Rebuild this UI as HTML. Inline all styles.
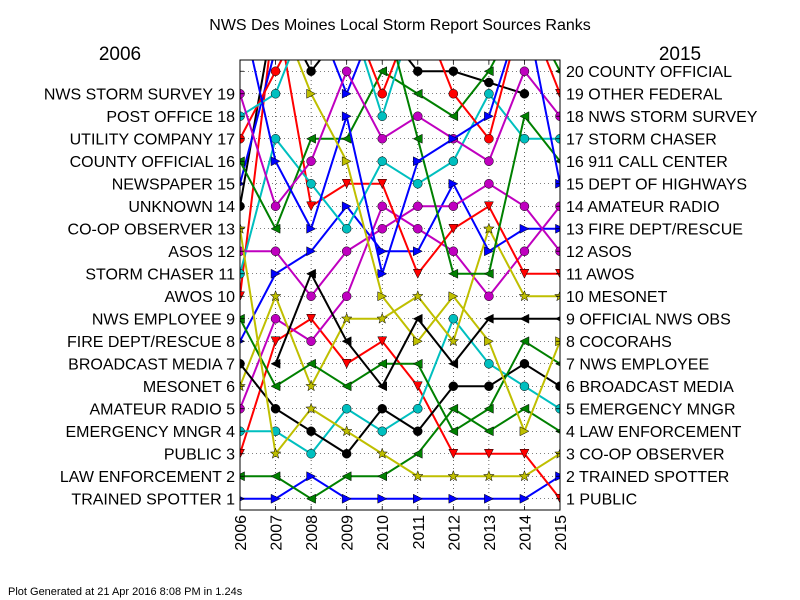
<!DOCTYPE html>
<html><head><meta charset="utf-8"><style>
html,body{margin:0;padding:0;background:#fff;}
svg{display:block;font-family:"Liberation Sans","DejaVu Sans",sans-serif;}
</style></head><body>
<svg id="chart" width="800" height="600" viewBox="0 0 800 600" xmlns="http://www.w3.org/2000/svg">
<rect x="0" y="0" width="800" height="600" fill="#fff"/>
<text x="400" y="30" text-anchor="middle" font-size="16">NWS Des Moines Local Storm Report Sources Ranks</text>
<text x="120" y="60" text-anchor="middle" font-size="19">2006</text>
<text x="680" y="60" text-anchor="middle" font-size="19">2015</text>
<text x="8" y="595" font-size="11">Plot Generated at 21 Apr 2016 8:08 PM in 1.24s</text>
<defs><clipPath id="plotclip"><rect x="240" y="60" width="320" height="450"/></clipPath></defs>
<g id="grid"></g>
<g id="series" clip-path="url(#plotclip)"></g>
<rect x="240" y="60" width="320" height="450" fill="none" stroke="#000" stroke-width="1"/>
<g id="axes"></g>
</svg>
<script>
const years = [2006,2007,2008,2009,2010,2011,2012,2013,2014,2015];
const leftLabels = ["TRAINED SPOTTER 1","LAW ENFORCEMENT 2","PUBLIC 3","EMERGENCY MNGR 4","AMATEUR RADIO 5","MESONET 6","BROADCAST MEDIA 7","FIRE DEPT/RESCUE 8","NWS EMPLOYEE 9","AWOS 10","STORM CHASER 11","ASOS 12","CO-OP OBSERVER 13","UNKNOWN 14","NEWSPAPER 15","COUNTY OFFICIAL 16","UTILITY COMPANY 17","POST OFFICE 18","NWS STORM SURVEY 19"];
const rightLabels = ["1 PUBLIC","2 TRAINED SPOTTER","3 CO-OP OBSERVER","4 LAW ENFORCEMENT","5 EMERGENCY MNGR","6 BROADCAST MEDIA","7 NWS EMPLOYEE","8 COCORAHS","9 OFFICIAL NWS OBS","10 MESONET","11 AWOS","12 ASOS","13 FIRE DEPT/RESCUE","14 AMATEUR RADIO","15 DEPT OF HIGHWAYS","16 911 CALL CENTER","17 STORM CHASER","18 NWS STORM SURVEY","19 OTHER FEDERAL","20 COUNTY OFFICIAL"];
const seriesNames = ["trained-spotter","law-enforcement","public","emergency-mngr","amateur-radio","mesonet","broadcast-media","fire-dept","nws-employee","awos","storm-chaser","asos","co-op-observer","unknown","newspaper","county-official","utility-company","post-office","nws-storm-survey","other-federal","911-call-center","dept-of-highways","cocorahs","official-nws-obs"];
const seriesColors = ["#0000ff","#008000","#ff0000","#00bfbf","#bf00bf","#bfbf00","#000000","#0000ff","#008000","#ff0000","#00bfbf","#bf00bf","#bfbf00","#000000","#0000ff","#008000","#ff0000","#00bfbf","#bf00bf","#ff0000","#008000","#0000ff","#bfbf00","#000000"];
const seriesMarkers = [">","<","v","o","o","*","o",">","<","v","o","o","*","o",">","<","o","o","o","v","<",">",">","<"];
const rankTrainedSpotter = [1,1,2,1,1,1,1,1,1,2];
const rankLawEnforcement = [2,2,1,2,2,3,5,4,5,4];
const rankPublic = [3,8,9,7,8,6,3,3,3,1];
const rankEmergencyMngr = [4,4,3,5,4,5,9,7,6,5];
const rankAmateurRadio = [5,9,8,10,14,13,12,10,12,14];
const rankMesonet = [6,10,6,9,9,10,8,13,10,10];
const rankBroadcastMedia = [7,5,4,3,5,4,6,6,7,6];
const rankFireDept = [8,11,12,14,12,12,15,12,13,13];
const rankNwsEmployee = [9,6,7,6,7,7,4,5,8,7];
const rankAwos = [10,23,14,15,15,11,13,14,11,11];
const rankStormChaser = [11,17,15,13,16,15,16,19,17,17];
const rankAsos = [12,12,10,12,13,14,14,15,14,12];
const rankCoopObserver = [13,3,5,4,3,2,2,2,2,3];
const rankUnknown = [14,23,20,22,22,20,20,19.5,19,null];
const rankNewspaper = [15,21,23,19,23,null,null,null,null,null];
const rankCountyOfficial = [16,13,17,17,20,19,18,20,23,20];
const rankUtilityCompany = [17,20,23,23,19,23,19,17,23,null];
const rankPostOffice = [18,19,23,23,18,23,null,null,null,null];
const rankNwsStormSurvey = [19,14,16,20,17,18,17,16,20,18];
const rankOtherFederal = [null,null,null,null,null,null,null,null,23,19];
const rank911CallCenter = [null,null,null,null,23,17,11,11,18,16];
const rankDeptOfHighways = [23,16,13,18,11,16,17,18,23,15];
const rankCocorahs = [null,23,19,16,10,8,10,8,4,8];
const rankOfficialNwsObs = [null,7,11,8,6,9,7,9,9,9];
const allRanks = [rankTrainedSpotter,rankLawEnforcement,rankPublic,rankEmergencyMngr,rankAmateurRadio,rankMesonet,rankBroadcastMedia,rankFireDept,rankNwsEmployee,rankAwos,rankStormChaser,rankAsos,rankCoopObserver,rankUnknown,rankNewspaper,rankCountyOfficial,rankUtilityCompany,rankPostOffice,rankNwsStormSurvey,rankOtherFederal,rank911CallCenter,rankDeptOfHighways,rankCocorahs,rankOfficialNwsObs];

const NS="http://www.w3.org/2000/svg";
const X0=240,X1=560,Y0=60,Y1=510,RMIN=0.5,RMAX=20.5;
function xScale(i){return X0+(X1-X0)*(i/(years.length-1));}
function yScale(r){return Y1-(r-RMIN)*(Y1-Y0)/(RMAX-RMIN);}
function mk(tag,attrs,parent){const e=document.createElementNS(NS,tag);for(const k in attrs)e.setAttribute(k,attrs[k]);parent.appendChild(e);return e;}

const grid=document.getElementById('grid');
for(let i=0;i<years.length;i++){
  const l=mk('line',{x1:xScale(i),x2:xScale(i),y1:Y0,y2:Y1,stroke:'#000','stroke-width':0.6,'stroke-dasharray':'1,3'},grid);
  
  
}
for(let r=1;r<=20;r++){
  const l=mk('line',{x1:X0,x2:X1,y1:yScale(r),y2:yScale(r),stroke:'#000','stroke-width':0.6,'stroke-dasharray':'1,3'},grid);
  
  
}

function markerPath(m,cx,cy,s){
  if(m==='>')return `M${cx+s},${cy} L${cx-s},${cy-s} L${cx-s},${cy+s} Z`;
  if(m==='<')return `M${cx-s},${cy} L${cx+s},${cy-s} L${cx+s},${cy+s} Z`;
  if(m==='v')return `M${cx},${cy+s} L${cx-s},${cy-s} L${cx+s},${cy-s} Z`;
  if(m==='*'){let d='';for(let k=0;k<10;k++){const a=-Math.PI/2+k*Math.PI/5;const rr=k%2?s*0.45:s*1.1;d+=(k?'L':'M')+(cx+rr*Math.cos(a)).toFixed(2)+','+(cy+rr*Math.sin(a)).toFixed(2);}return d+'Z';}
  return null;
}

const sg=document.getElementById('series');
allRanks.forEach((vals,si)=>{
  const g=mk('g',{},sg);
  
  
  let d='';let pen=false;
  vals.forEach((v,i)=>{
    if(v===null){pen=false;return;}
    d+=(pen?'L':'M')+xScale(i).toFixed(2)+','+yScale(v).toFixed(2)+' ';pen=true;
  });
  const p=mk('path',{d:d,fill:'none',stroke:seriesColors[si],'stroke-width':2,'stroke-linejoin':'miter'},g);
  
  
  vals.forEach((v,i)=>{
    if(v===null)return;
    const cx=xScale(i),cy=yScale(v);
    const m=seriesMarkers[si];
    let e;
    if(m==='o'){e=mk('circle',{cx:cx,cy:cy,r:4.5,fill:seriesColors[si],stroke:'#000','stroke-width':0.5},g);}
    else{e=mk('path',{d:markerPath(m,cx,cy,m==='*'?5:4.5),fill:seriesColors[si],stroke:'#000','stroke-width':0.5},g);}
    
    
  });
});

const ax=document.getElementById('axes');
leftLabels.forEach((t,i)=>{
  const y=yScale(i+1);
  const tx=mk('text',{x:235,y:y+5.5,'text-anchor':'end','font-size':16},ax);
  tx.textContent=t;
  
  
});
rightLabels.forEach((t,i)=>{
  const y=yScale(i+1);
  const tx=mk('text',{x:566,y:y+5.5,'text-anchor':'start','font-size':16},ax);
  tx.textContent=t;
  
  
});
for(let r=1;r<=20;r++){
  const y=yScale(r);
  const a=mk('line',{x1:X0,x2:X0+4,y1:y,y2:y,stroke:'#000','stroke-width':0.8},ax);
  
  
  const b=mk('line',{x1:X1-4,x2:X1,y1:y,y2:y,stroke:'#000','stroke-width':0.8},ax);
  
  
}
years.forEach((yr,i)=>{
  const x=xScale(i);
  const t1=mk('line',{x1:x,x2:x,y1:Y1,y2:Y1-4,stroke:'#000','stroke-width':0.8},ax);
  
  
  const t2=mk('line',{x1:x,x2:x,y1:Y0,y2:Y0+4,stroke:'#000','stroke-width':0.8},ax);
  
  
  const tx=mk('text',{x:0,y:0,'text-anchor':'end','font-size':16,transform:`translate(${x+6},${Y1+5}) rotate(-90)`},ax);
  tx.textContent=yr;
  
  
});
</script>
</body></html>
